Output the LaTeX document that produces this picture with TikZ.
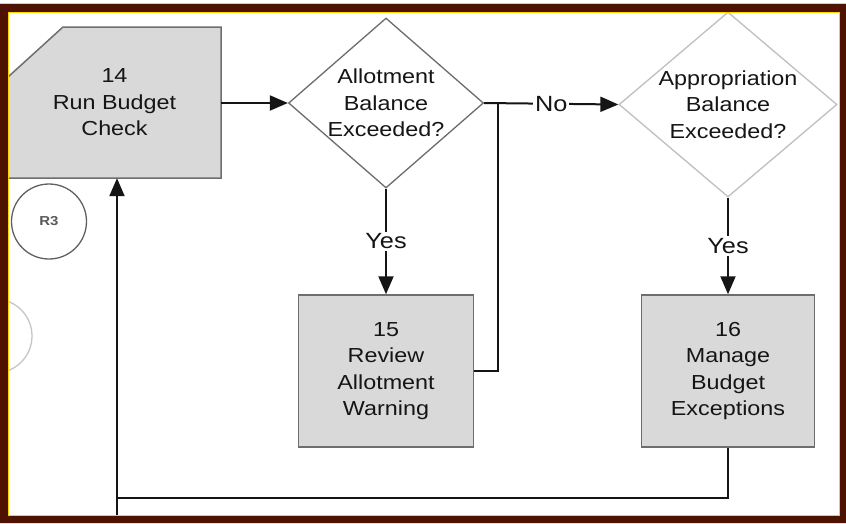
\documentclass[tikz,border=0pt]{standalone}
\usepackage{fontspec}
\setmainfont{Liberation Sans}[FakeStretch=1.15]
\usetikzlibrary{shapes.geometric,arrows.meta,calc}
\definecolor{frame}{HTML}{4D1200}
\definecolor{txt}{HTML}{151515}
\definecolor{boxfill}{HTML}{D9D9D9}
\definecolor{boxline}{HTML}{6E6E6E}
\tikzset{
  procbox/.style={draw=boxline, fill=boxfill, line width=1.5pt, inner sep=0pt},
  boxtext/.style={text=txt, align=center, font=\fontsize{20.3}{26.5}\selectfont},
  decision/.style={diamond, draw=#1, line width=1.3pt, inner sep=0pt},
  conn/.style={draw=txt, line width=2pt, -{Triangle[length=18pt,width=15pt]}},
  plain/.style={draw=txt, line width=2pt},
  lbl/.style={fill=white, text=txt, inner sep=2pt, font=\fontsize{22}{24}\selectfont},
  refcircle/.style={draw=#1, line width=1.3pt, circle}
}
\begin{document}
\begin{tikzpicture}[x=1pt,y=-1pt]
\useasboundingbox (0,0) rectangle (846,523);
\fill[white] (0,0) rectangle (846,523);

% box 14 (cut corner)
\fill[boxfill] (63,27) -- (221,27) -- (221,178) -- (8,178) -- (8,77) -- cycle;
\draw[boxline, line width=1.5pt] (63,27) -- (221,27) -- (221,178) -- (8,178) -- (8,77) -- cycle;
\node[boxtext, minimum width=213pt, minimum height=151pt] (b14) at (114.5,102.5) {14\\Run Budget\\Check};

% decisions
\node[decision=gray!85!black, minimum width=195pt, minimum height=170pt] (d1) at (386,103) {};
\node[boxtext] (d1t) at (d1) {Allotment\\Balance\\Exceeded?};
\node[decision=gray!50, minimum width=218pt, minimum height=185pt] (d2) at (728,104.5) {};
\node[boxtext] (d2t) at (d2) {Appropriation\\Balance\\Exceeded?};

% boxes 15, 16
\node[procbox, boxtext, minimum width=175pt, minimum height=152pt] (b15) at (386,371) {15\\Review\\Allotment\\Warning};
\node[procbox, boxtext, minimum width=173pt, minimum height=152pt] (b16) at (728,371) {16\\Manage\\Budget\\Exceptions};

% reference circles
\node[refcircle=gray!75!black, minimum size=75pt, text=gray!70!black, font=\fontsize{13}{13}\bfseries] (r3) at (49,221.5) {R3};
\node[refcircle=gray!45, minimum size=74pt] (r4) at (-5,336) {};

% connectors
\coordinate (j) at (498,102);
\coordinate (bot) at (117,515);
\coordinate (corner) at (117,498);
\draw[conn] (b14.east |- d1.west) -- (d1.west);
\draw[conn] (d1.east) -- node[lbl] (no) {No} (d2.west);
\draw[conn] (d1.south) -- node[lbl] (yes1) {Yes} (b15.north);
\draw[conn] (d2.south) -- node[lbl] (yes2) {Yes} (b16.north);
\draw[plain] (b15.east) -| (j);
\draw[plain] (b16.south) |- (corner);
\draw[conn] (bot) -- (bot |- b14.south);

% frame
\fill[frame, even odd rule] (0,3) rectangle (846,523) (8,12) rectangle (839,515);
\draw[yellow!80!orange, line width=0.8pt] (0,3) -- (846,3);
\draw[yellow!70!orange, line width=0.6pt] (8,12) rectangle (839,515);
\end{tikzpicture}
\end{document}
